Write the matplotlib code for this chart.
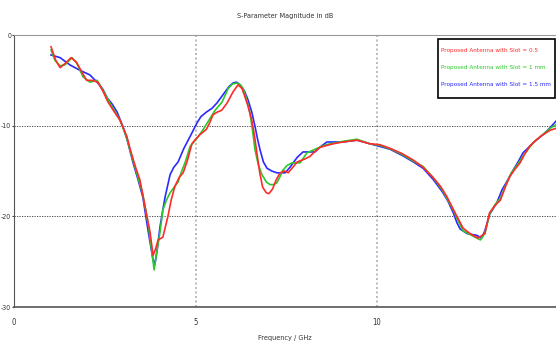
import matplotlib
matplotlib.use("Agg")
import matplotlib.pyplot as plt
from matplotlib import font_manager
from matplotlib.patches import Rectangle

names = {f.name for f in font_manager.fontManager.ttflist}
fam = ['Liberation Sans Narrow', 'DejaVu Sans'] if 'Liberation Sans Narrow' in names else ['DejaVu Sans']
plt.rcParams['font.family'] = fam
plt.rcParams['font.stretch'] = 'condensed'
plt.rcParams['axes.unicode_minus'] = False

red_f = [1.02, 1.15, 1.27, 1.42, 1.57, 1.72, 1.87, 2.0, 2.15, 2.31, 2.45, 2.59, 2.75, 2.92, 3.11, 3.2, 3.35, 3.47,
         3.6, 3.75, 3.83, 3.9, 3.97, 4.1, 4.24, 4.33, 4.43, 4.55, 4.66, 4.78, 4.9, 5.0, 5.12, 5.3, 5.4, 5.48, 5.6,
         5.72, 5.87, 6.03, 6.17, 6.28, 6.36, 6.45, 6.55, 6.62, 6.69, 6.77, 6.85, 6.95, 7.02, 7.12, 7.22, 7.33, 7.45,
         7.55, 7.7, 7.8, 8.0, 8.15, 8.3, 8.43, 8.6, 8.79, 9.06, 9.45, 9.8, 10.08, 10.36, 10.7, 11.0, 11.27, 11.54,
         11.75, 11.92, 12.06, 12.2, 12.37, 12.56, 12.78, 12.97, 13.1, 13.25, 13.4, 13.55, 13.66, 13.8, 13.94, 14.07,
         14.2, 14.35, 14.5, 14.65, 14.77, 14.93]
red_db = [-1.3, -2.8, -3.6, -3.1, -2.5, -3.0, -4.1, -5.0, -5.0, -5.2, -6.2, -7.4, -8.4, -9.4, -11.2, -12.6, -14.6,
          -16.0, -18.7, -21.8, -24.3, -23.6, -22.6, -22.3, -20.0, -18.2, -16.7, -15.7, -15.2, -13.8, -12.0, -11.5,
          -11.0, -10.4, -9.6, -8.8, -8.5, -8.3, -7.5, -6.3, -5.5, -5.9, -6.8, -7.9, -9.4, -11.0, -13.0, -15.2, -16.8,
          -17.4, -17.5, -17.0, -16.0, -15.2, -15.0, -15.2, -14.5, -14.0, -13.7, -13.4, -12.8, -12.4, -12.2, -12.0,
          -11.8, -11.6, -12.0, -12.1, -12.5, -13.1, -13.8, -14.6, -15.7, -16.7, -17.8, -18.9, -20.0, -21.3, -21.9,
          -22.4, -21.9, -19.6, -18.8, -18.2, -16.6, -15.6, -14.8, -14.1, -13.1, -12.3, -11.7, -11.2, -10.8, -10.5,
          -10.3]

green_f = [1.02, 1.13, 1.27, 1.4, 1.6, 1.73, 1.9, 2.09, 2.29, 2.45, 2.7, 2.92, 3.1, 3.25, 3.4, 3.55, 3.7, 3.8, 3.86,
           3.93, 4.02, 4.1, 4.2, 4.3, 4.52, 4.62, 4.71, 4.85, 5.04, 5.2, 5.4, 5.54, 5.73, 5.9, 6.02, 6.14, 6.24, 6.31,
           6.4, 6.5, 6.57, 6.64, 6.73, 6.83, 6.95, 7.05, 7.15, 7.24, 7.33, 7.41, 7.52, 7.66, 7.88, 8.07, 8.35, 8.6,
           8.85, 9.1, 9.45, 9.8, 10.1, 10.4, 10.7, 11.0, 11.27, 11.54, 11.8, 11.95, 12.1, 12.2, 12.37, 12.56, 12.75,
           12.85, 12.97, 13.1, 13.25, 13.4, 13.55, 13.7, 13.85, 14.0, 14.2, 14.35, 14.5, 14.65, 14.8, 14.93]
green_db = [-1.65, -2.8, -3.4, -3.3, -2.5, -3.1, -4.6, -5.2, -5.0, -6.1, -7.9, -9.4, -11.3, -13.5, -15.5, -17.6,
            -21.0, -24.0, -25.9, -24.0, -21.8, -19.3, -18.2, -17.4, -16.2, -15.0, -14.1, -12.3, -11.4, -10.5, -9.2,
            -8.3, -7.4, -5.9, -5.4, -5.3, -5.5, -5.9, -7.0, -8.6, -10.5, -12.7, -14.3, -15.4, -16.2, -16.5, -16.5,
            -16.3, -15.6, -14.9, -14.4, -14.1, -14.1, -13.0, -12.5, -12.1, -11.9, -11.7, -11.5, -12.0, -12.2, -12.6,
            -13.2, -13.9, -14.5, -15.7, -17.1, -18.2, -19.3, -20.2, -21.6, -22.0, -22.4, -22.6, -21.9, -19.8, -18.7,
            -18.0, -16.5, -15.2, -14.4, -13.5, -12.4, -11.7, -11.2, -10.7, -10.2, -9.9]

blue_f = [1.02, 1.27, 1.54, 1.82, 2.09, 2.31, 2.45, 2.56, 2.7, 2.84, 3.0, 3.12, 3.28, 3.42, 3.55, 3.69, 3.83, 3.88,
          3.95, 4.02, 4.1, 4.16, 4.3, 4.4, 4.52, 4.68, 4.85, 5.04, 5.15, 5.3, 5.45, 5.59, 5.7, 5.81, 5.92, 6.03, 6.13,
          6.23, 6.35, 6.45, 6.55, 6.64, 6.71, 6.78, 6.87, 6.97, 7.1, 7.24, 7.47, 7.6, 7.69, 7.8, 7.96, 8.29, 8.45,
          8.62, 9.06, 9.45, 9.9, 10.36, 10.7, 11.0, 11.27, 11.54, 11.8, 11.95, 12.1, 12.2, 12.29, 12.48, 12.75, 12.88,
          12.97, 13.1, 13.3, 13.44, 13.6, 13.75, 13.9, 14.02, 14.15, 14.3, 14.45, 14.57, 14.75, 14.93]
blue_db = [-2.2, -2.5, -3.3, -3.9, -4.4, -5.3, -6.0, -6.9, -7.6, -8.5, -10.1, -11.6, -14.1, -16.0, -17.9, -21.5,
           -24.8, -25.3, -23.5, -21.2, -19.3, -17.9, -15.4, -14.6, -14.0, -12.5, -11.2, -9.7, -9.0, -8.5, -8.1, -7.5,
           -6.9, -6.3, -5.7, -5.3, -5.2, -5.5, -6.2, -7.2, -8.5, -10.1, -11.5, -12.7, -14.0, -14.7, -15.0, -15.2,
           -15.2, -14.6, -14.1, -13.5, -12.9, -12.9, -12.3, -11.8, -11.8, -11.6, -12.1, -12.6, -13.3, -14.0, -14.7,
           -15.9, -17.3, -18.3, -19.6, -20.7, -21.4, -21.9, -22.1, -22.4, -21.6, -19.8, -18.5, -17.1, -16.0, -14.9,
           -13.9, -13.0, -12.5, -11.9, -11.4, -11.0, -10.3, -9.5]

labels = ["Proposed Antenna with Slot = 0.5",
          "Proposed Antenna with Slot = 1 mm",
          "Proposed Antenna with Slot = 1.5 mm"]
colors = ["#ff2a2a", "#2ac82a", "#2a2aff"]

W, H = 556, 343
fig = plt.figure(figsize=(W / 100, H / 100), dpi=100)
ax = fig.add_axes([14/W, 1 - 307/H, 542/W, 272/H])

l3, = ax.plot(blue_f, blue_db, color=colors[2], lw=1.2, label=labels[2])
l2, = ax.plot(green_f, green_db, color=colors[1], lw=1.2, label=labels[1])
l1, = ax.plot(red_f, red_db, color=colors[0], lw=1.2, label=labels[0])

ax.set_xlim(0, 14.93)
ax.set_ylim(-30, 0)
ax.set_xticks([0, 5, 10])
ax.set_yticks([0, -10, -20, -30])
ax.tick_params(axis='y', labelsize=5, colors='#444444', length=1.5, width=0.8, pad=0.5)
ax.tick_params(axis='x', labelsize=5.5, length=0, pad=8)
for lab in ax.get_xticklabels() + ax.get_yticklabels():
    lab.set_color('#333333')

for x in [5, 10]:
    ax.axvline(x, color='#b0b0b0', lw=1.2, ls=(0, (1.2, 1.5)), zorder=0)
for y in [-10, -20]:
    ax.axhline(y, color='#333333', lw=0.6, ls=(0, (1.5, 1.5)), zorder=0)

ax.spines['right'].set_visible(False)
ax.spines['top'].set_color('#999999')
ax.spines['top'].set_linewidth(0.8)
ax.spines['left'].set_color('#555555')
ax.spines['bottom'].set_color('#555555')
ax.spines['bottom'].set_linewidth(1.2)

fig.text(285/W, 1 - 16/H, "S-Parameter Magnitude in dB", ha='center', va='center', fontsize=5.2, color='#333333')
fig.text(285/W, 1 - 338/H, "Frequency / GHz", ha='center', va='center', fontsize=5.2, color='#333333')

# legend: coloured texts only, placed at the top right
leg_kw = dict(fontsize=4.6, handlelength=0, handletextpad=0, frameon=False,
              labelspacing=1.75, borderpad=0.3, borderaxespad=0)
anchor = ((W - 3) / W, (H - 46) / H)
leg = fig.legend(handles=[l1, l2, l3], loc='upper right', bbox_to_anchor=anchor, **leg_kw)
leg.set_zorder(5)
for h in leg.legend_handles:
    h.set_visible(False)
for t, c in zip(leg.get_texts(), colors):
    t.set_color(c)

# frame around the legend with wider vertical margins
fig.canvas.draw()
bb = leg.get_window_extent()
x0 = bb.x0 - 1
x1 = W - 1.5
y0 = H - 98
y1 = H - 39
rect = Rectangle((x0 / W, y0 / H), (x1 - x0) / W, (y1 - y0) / H,
                 transform=fig.transFigure, facecolor='white',
                 edgecolor='black', lw=1.2, zorder=4)
fig.add_artist(rect)

fig.savefig("out.png", dpi=100)
